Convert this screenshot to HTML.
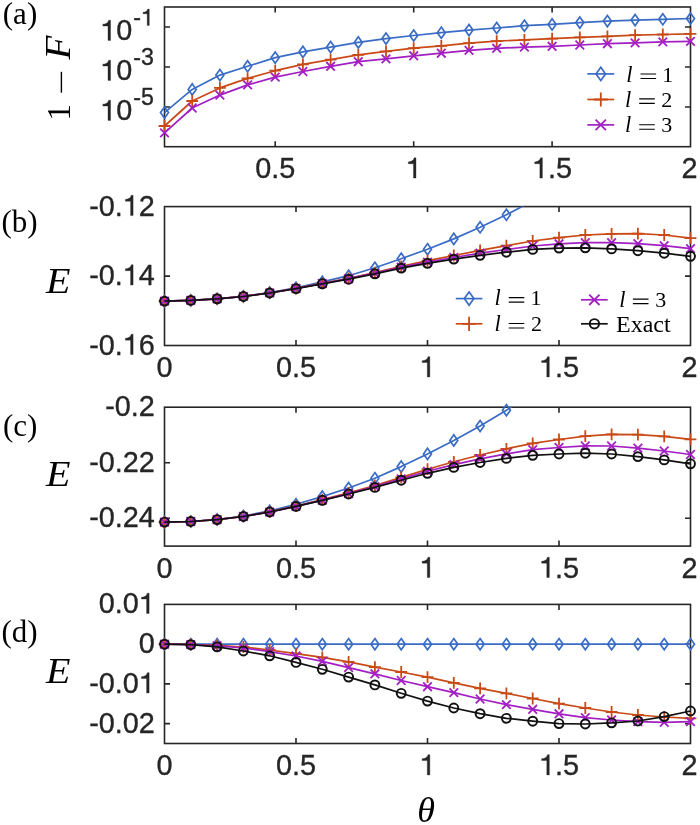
<!DOCTYPE html>
<html><head><meta charset="utf-8"><title>figure</title>
<style>
html,body{margin:0;padding:0;background:#fff;}
body{width:700px;height:825px;overflow:hidden;font-family:"Liberation Sans",sans-serif;}
svg{display:block;will-change:transform;}
</style></head><body>
<svg width="700" height="825" viewBox="0 0 700 825">
<rect x="0" y="0" width="700" height="825" fill="#ffffff"/>
<defs>
<clipPath id="clipa"><rect x="164.5" y="7.0" width="526.0" height="139.7"/></clipPath>
<clipPath id="clipb"><rect x="164.5" y="206.6" width="526.0" height="138.9"/></clipPath>
<clipPath id="clipc"><rect x="164.5" y="407.2" width="526.0" height="138.90000000000003"/></clipPath>
<clipPath id="clipd"><rect x="164.5" y="604.4" width="526.0" height="139.10000000000002"/></clipPath>
</defs>
<rect x="164.5" y="7.0" width="526.0" height="139.7" fill="none" stroke="#262626" stroke-width="1.6"/>
<path d="M275.2,146.7 V141.2 M275.2,7.0 V12.5" stroke="#262626" stroke-width="1.6" fill="none"/>
<path d="M413.7,146.7 V141.2 M413.7,7.0 V12.5" stroke="#262626" stroke-width="1.6" fill="none"/>
<path d="M552.1,146.7 V141.2 M552.1,7.0 V12.5" stroke="#262626" stroke-width="1.6" fill="none"/>
<path d="M164.5,27.0 H170.0 M690.5,27.0 H685.0" stroke="#262626" stroke-width="1.6" fill="none"/>
<path d="M164.5,67.0 H170.0 M690.5,67.0 H685.0" stroke="#262626" stroke-width="1.6" fill="none"/>
<path d="M164.5,107.0 H170.0 M690.5,107.0 H685.0" stroke="#262626" stroke-width="1.6" fill="none"/>
<text x="255.22" y="178.10" font-family="Liberation Sans, sans-serif" font-size="28.8" fill="#262626" stroke="#262626" stroke-width="0.35">0.5</text>
<path transform="translate(405.65,178.10) scale(28.8,-28.8)" d="M.359,0H.271V.499H.092V.563C.19,.566 .266,.598 .297,.703H.359Z" fill="#262626" stroke="#262626" stroke-width="0.0122"/>
<path transform="translate(532.06,178.10) scale(28.8,-28.8)" d="M.359,0H.271V.499H.092V.563C.19,.566 .266,.598 .297,.703H.359Z" fill="#262626" stroke="#262626" stroke-width="0.0122"/>
<text x="548.08" y="178.10" font-family="Liberation Sans, sans-serif" font-size="28.8" fill="#262626" stroke="#262626" stroke-width="0.35">.5</text>
<text x="681.49" y="178.10" font-family="Liberation Sans, sans-serif" font-size="28.8" fill="#262626" stroke="#262626" stroke-width="0.35">2</text>
<path transform="translate(100.20,40.40) scale(28.8,-28.8)" d="M.359,0H.271V.499H.092V.563C.19,.566 .266,.598 .297,.703H.359Z" fill="#262626" stroke="#262626" stroke-width="0.0122"/>
<text x="116.21" y="40.40" font-family="Liberation Sans, sans-serif" font-size="28.8" fill="#262626" stroke="#262626" stroke-width="0.35">0</text>
<text x="133.20" y="25.40" font-family="Liberation Sans, sans-serif" font-size="23.2" fill="#262626" stroke="#262626" stroke-width="0.35">-</text>
<path transform="translate(140.93,25.40) scale(23.2,-23.2)" d="M.359,0H.271V.499H.092V.563C.19,.566 .266,.598 .297,.703H.359Z" fill="#262626" stroke="#262626" stroke-width="0.0151"/>
<path transform="translate(100.20,80.40) scale(28.8,-28.8)" d="M.359,0H.271V.499H.092V.563C.19,.566 .266,.598 .297,.703H.359Z" fill="#262626" stroke="#262626" stroke-width="0.0122"/>
<text x="116.21" y="80.40" font-family="Liberation Sans, sans-serif" font-size="28.8" fill="#262626" stroke="#262626" stroke-width="0.35">0</text>
<text x="133.20" y="65.40" font-family="Liberation Sans, sans-serif" font-size="23.2" fill="#262626" stroke="#262626" stroke-width="0.35">-3</text>
<path transform="translate(100.20,120.40) scale(28.8,-28.8)" d="M.359,0H.271V.499H.092V.563C.19,.566 .266,.598 .297,.703H.359Z" fill="#262626" stroke="#262626" stroke-width="0.0122"/>
<text x="116.21" y="120.40" font-family="Liberation Sans, sans-serif" font-size="28.8" fill="#262626" stroke="#262626" stroke-width="0.35">0</text>
<text x="133.20" y="105.40" font-family="Liberation Sans, sans-serif" font-size="23.2" fill="#262626" stroke="#262626" stroke-width="0.35">-5</text>
<g>
<path d="M164.5,112.6 L192.2,89.4 L219.9,75.1 L247.6,66.3 L275.2,57.6 L302.9,51.9 L330.6,47.1 L358.3,42.4 L386.0,38.6 L413.7,35.5 L441.3,32.7 L469.0,30.1 L496.7,28.0 L524.4,25.7 L552.1,24.4 L579.8,22.6 L607.4,21.1 L635.1,20.1 L662.8,19.3 L690.5,18.5" fill="none" stroke="#3a6cc6" stroke-width="1.7" stroke-linejoin="round"/>
</g>
<path d="M164.5,107.0 L168.5,112.6 L164.5,118.2 L160.5,112.6 Z" fill="none" stroke="#3a6cc6" stroke-width="1.7" stroke-linejoin="miter"/>
<path d="M192.2,83.8 L196.2,89.4 L192.2,95.0 L188.2,89.4 Z" fill="none" stroke="#3a6cc6" stroke-width="1.7" stroke-linejoin="miter"/>
<path d="M219.9,69.5 L223.9,75.1 L219.9,80.7 L215.9,75.1 Z" fill="none" stroke="#3a6cc6" stroke-width="1.7" stroke-linejoin="miter"/>
<path d="M247.6,60.7 L251.6,66.3 L247.6,71.9 L243.6,66.3 Z" fill="none" stroke="#3a6cc6" stroke-width="1.7" stroke-linejoin="miter"/>
<path d="M275.2,52.0 L279.2,57.6 L275.2,63.2 L271.2,57.6 Z" fill="none" stroke="#3a6cc6" stroke-width="1.7" stroke-linejoin="miter"/>
<path d="M302.9,46.3 L306.9,51.9 L302.9,57.5 L298.9,51.9 Z" fill="none" stroke="#3a6cc6" stroke-width="1.7" stroke-linejoin="miter"/>
<path d="M330.6,41.5 L334.6,47.1 L330.6,52.7 L326.6,47.1 Z" fill="none" stroke="#3a6cc6" stroke-width="1.7" stroke-linejoin="miter"/>
<path d="M358.3,36.8 L362.3,42.4 L358.3,48.0 L354.3,42.4 Z" fill="none" stroke="#3a6cc6" stroke-width="1.7" stroke-linejoin="miter"/>
<path d="M386.0,33.0 L390.0,38.6 L386.0,44.2 L382.0,38.6 Z" fill="none" stroke="#3a6cc6" stroke-width="1.7" stroke-linejoin="miter"/>
<path d="M413.7,29.9 L417.7,35.5 L413.7,41.1 L409.7,35.5 Z" fill="none" stroke="#3a6cc6" stroke-width="1.7" stroke-linejoin="miter"/>
<path d="M441.3,27.1 L445.3,32.7 L441.3,38.3 L437.3,32.7 Z" fill="none" stroke="#3a6cc6" stroke-width="1.7" stroke-linejoin="miter"/>
<path d="M469.0,24.5 L473.0,30.1 L469.0,35.7 L465.0,30.1 Z" fill="none" stroke="#3a6cc6" stroke-width="1.7" stroke-linejoin="miter"/>
<path d="M496.7,22.4 L500.7,28.0 L496.7,33.6 L492.7,28.0 Z" fill="none" stroke="#3a6cc6" stroke-width="1.7" stroke-linejoin="miter"/>
<path d="M524.4,20.1 L528.4,25.7 L524.4,31.3 L520.4,25.7 Z" fill="none" stroke="#3a6cc6" stroke-width="1.7" stroke-linejoin="miter"/>
<path d="M552.1,18.8 L556.1,24.4 L552.1,30.0 L548.1,24.4 Z" fill="none" stroke="#3a6cc6" stroke-width="1.7" stroke-linejoin="miter"/>
<path d="M579.8,17.0 L583.8,22.6 L579.8,28.2 L575.8,22.6 Z" fill="none" stroke="#3a6cc6" stroke-width="1.7" stroke-linejoin="miter"/>
<path d="M607.4,15.5 L611.4,21.1 L607.4,26.7 L603.4,21.1 Z" fill="none" stroke="#3a6cc6" stroke-width="1.7" stroke-linejoin="miter"/>
<path d="M635.1,14.5 L639.1,20.1 L635.1,25.7 L631.1,20.1 Z" fill="none" stroke="#3a6cc6" stroke-width="1.7" stroke-linejoin="miter"/>
<path d="M662.8,13.7 L666.8,19.3 L662.8,24.9 L658.8,19.3 Z" fill="none" stroke="#3a6cc6" stroke-width="1.7" stroke-linejoin="miter"/>
<path d="M690.5,12.9 L694.5,18.5 L690.5,24.1 L686.5,18.5 Z" fill="none" stroke="#3a6cc6" stroke-width="1.7" stroke-linejoin="miter"/>
<g>
<path d="M164.5,126.0 L192.2,101.0 L219.9,87.9 L247.6,78.4 L275.2,70.7 L302.9,64.3 L330.6,59.7 L358.3,54.8 L386.0,51.4 L413.7,48.1 L441.3,45.8 L469.0,43.2 L496.7,41.1 L524.4,39.9 L552.1,38.6 L579.8,37.3 L607.4,36.3 L635.1,35.2 L662.8,34.5 L690.5,33.9" fill="none" stroke="#c94a16" stroke-width="1.7" stroke-linejoin="round"/>
</g>
<path d="M158.6,126.0 H170.4 M164.5,120.1 V131.9" fill="none" stroke="#c94a16" stroke-width="1.8"/>
<path d="M186.3,101.0 H198.1 M192.2,95.1 V106.9" fill="none" stroke="#c94a16" stroke-width="1.8"/>
<path d="M214.0,87.9 H225.8 M219.9,82.0 V93.8" fill="none" stroke="#c94a16" stroke-width="1.8"/>
<path d="M241.7,78.4 H253.5 M247.6,72.5 V84.3" fill="none" stroke="#c94a16" stroke-width="1.8"/>
<path d="M269.3,70.7 H281.1 M275.2,64.8 V76.6" fill="none" stroke="#c94a16" stroke-width="1.8"/>
<path d="M297.0,64.3 H308.8 M302.9,58.4 V70.2" fill="none" stroke="#c94a16" stroke-width="1.8"/>
<path d="M324.7,59.7 H336.5 M330.6,53.8 V65.6" fill="none" stroke="#c94a16" stroke-width="1.8"/>
<path d="M352.4,54.8 H364.2 M358.3,48.9 V60.7" fill="none" stroke="#c94a16" stroke-width="1.8"/>
<path d="M380.1,51.4 H391.9 M386.0,45.5 V57.3" fill="none" stroke="#c94a16" stroke-width="1.8"/>
<path d="M407.8,48.1 H419.6 M413.7,42.2 V54.0" fill="none" stroke="#c94a16" stroke-width="1.8"/>
<path d="M435.4,45.8 H447.2 M441.3,39.9 V51.7" fill="none" stroke="#c94a16" stroke-width="1.8"/>
<path d="M463.1,43.2 H474.9 M469.0,37.3 V49.1" fill="none" stroke="#c94a16" stroke-width="1.8"/>
<path d="M490.8,41.1 H502.6 M496.7,35.2 V47.0" fill="none" stroke="#c94a16" stroke-width="1.8"/>
<path d="M518.5,39.9 H530.3 M524.4,34.0 V45.8" fill="none" stroke="#c94a16" stroke-width="1.8"/>
<path d="M546.2,38.6 H558.0 M552.1,32.7 V44.5" fill="none" stroke="#c94a16" stroke-width="1.8"/>
<path d="M573.9,37.3 H585.7 M579.8,31.4 V43.2" fill="none" stroke="#c94a16" stroke-width="1.8"/>
<path d="M601.5,36.3 H613.3 M607.4,30.4 V42.2" fill="none" stroke="#c94a16" stroke-width="1.8"/>
<path d="M629.2,35.2 H641.0 M635.1,29.3 V41.1" fill="none" stroke="#c94a16" stroke-width="1.8"/>
<path d="M656.9,34.5 H668.7 M662.8,28.6 V40.4" fill="none" stroke="#c94a16" stroke-width="1.8"/>
<path d="M684.6,33.9 H696.4 M690.5,28.0 V39.8" fill="none" stroke="#c94a16" stroke-width="1.8"/>
<g>
<path d="M164.5,132.9 L192.2,108.0 L219.9,95.1 L247.6,84.9 L275.2,77.1 L302.9,71.5 L330.6,66.3 L358.3,61.7 L386.0,58.9 L413.7,55.8 L441.3,53.2 L469.0,50.4 L496.7,48.3 L524.4,47.1 L552.1,46.3 L579.8,45.0 L607.4,43.7 L635.1,42.9 L662.8,41.9 L690.5,41.4" fill="none" stroke="#a31fc4" stroke-width="1.7" stroke-linejoin="round"/>
</g>
<path d="M160.2,128.6 L168.8,137.2 M160.2,137.2 L168.8,128.6" fill="none" stroke="#a31fc4" stroke-width="1.8"/>
<path d="M187.9,103.7 L196.5,112.3 M187.9,112.3 L196.5,103.7" fill="none" stroke="#a31fc4" stroke-width="1.8"/>
<path d="M215.6,90.8 L224.2,99.4 M215.6,99.4 L224.2,90.8" fill="none" stroke="#a31fc4" stroke-width="1.8"/>
<path d="M243.3,80.6 L251.9,89.2 M243.3,89.2 L251.9,80.6" fill="none" stroke="#a31fc4" stroke-width="1.8"/>
<path d="M270.9,72.8 L279.5,81.4 M270.9,81.4 L279.5,72.8" fill="none" stroke="#a31fc4" stroke-width="1.8"/>
<path d="M298.6,67.2 L307.2,75.8 M298.6,75.8 L307.2,67.2" fill="none" stroke="#a31fc4" stroke-width="1.8"/>
<path d="M326.3,62.0 L334.9,70.6 M326.3,70.6 L334.9,62.0" fill="none" stroke="#a31fc4" stroke-width="1.8"/>
<path d="M354.0,57.4 L362.6,66.0 M354.0,66.0 L362.6,57.4" fill="none" stroke="#a31fc4" stroke-width="1.8"/>
<path d="M381.7,54.6 L390.3,63.2 M381.7,63.2 L390.3,54.6" fill="none" stroke="#a31fc4" stroke-width="1.8"/>
<path d="M409.4,51.5 L418.0,60.1 M409.4,60.1 L418.0,51.5" fill="none" stroke="#a31fc4" stroke-width="1.8"/>
<path d="M437.0,48.9 L445.6,57.5 M437.0,57.5 L445.6,48.9" fill="none" stroke="#a31fc4" stroke-width="1.8"/>
<path d="M464.7,46.1 L473.3,54.7 M464.7,54.7 L473.3,46.1" fill="none" stroke="#a31fc4" stroke-width="1.8"/>
<path d="M492.4,44.0 L501.0,52.6 M492.4,52.6 L501.0,44.0" fill="none" stroke="#a31fc4" stroke-width="1.8"/>
<path d="M520.1,42.8 L528.7,51.4 M520.1,51.4 L528.7,42.8" fill="none" stroke="#a31fc4" stroke-width="1.8"/>
<path d="M547.8,42.0 L556.4,50.6 M547.8,50.6 L556.4,42.0" fill="none" stroke="#a31fc4" stroke-width="1.8"/>
<path d="M575.5,40.7 L584.1,49.3 M575.5,49.3 L584.1,40.7" fill="none" stroke="#a31fc4" stroke-width="1.8"/>
<path d="M603.1,39.4 L611.7,48.0 M603.1,48.0 L611.7,39.4" fill="none" stroke="#a31fc4" stroke-width="1.8"/>
<path d="M630.8,38.6 L639.4,47.2 M630.8,47.2 L639.4,38.6" fill="none" stroke="#a31fc4" stroke-width="1.8"/>
<path d="M658.5,37.6 L667.1,46.2 M658.5,46.2 L667.1,37.6" fill="none" stroke="#a31fc4" stroke-width="1.8"/>
<path d="M686.2,37.1 L694.8,45.7 M686.2,45.7 L694.8,37.1" fill="none" stroke="#a31fc4" stroke-width="1.8"/>
<path d="M587.3,73.9 H614.2" stroke="#3a6cc6" stroke-width="1.7"/>
<path d="M600.8,67.2 L605.5,73.9 L600.8,80.6 L596.0,73.9 Z" fill="none" stroke="#3a6cc6" stroke-width="1.7" stroke-linejoin="miter"/>
<path d="M587.3,99.5 H614.2" stroke="#c94a16" stroke-width="1.7"/>
<path d="M593.7,99.5 H607.8 M600.8,92.4 V106.6" fill="none" stroke="#c94a16" stroke-width="1.8"/>
<path d="M587.3,124.9 H614.2" stroke="#a31fc4" stroke-width="1.7"/>
<path d="M595.6,119.7 L605.9,130.1 M595.6,130.1 L605.9,119.7" fill="none" stroke="#a31fc4" stroke-width="1.8"/>
<text x="626.3" y="81.7" font-family="Liberation Serif, serif" font-size="22.5" font-style="italic" fill="#000">l</text>
<path d="M640.5,74.0 h15.6 M640.5,78.5 h15.6" stroke="#000" stroke-width="1.15" fill="none"/>
<text x="662.3" y="81.7" font-family="Liberation Serif, serif" font-size="22" fill="#000">1</text>
<text x="625.0" y="106.6" font-family="Liberation Serif, serif" font-size="22.5" font-style="italic" fill="#000">l</text>
<path d="M639.2,98.9 h15.6 M639.2,103.4 h15.6" stroke="#000" stroke-width="1.15" fill="none"/>
<text x="661.3" y="106.6" font-family="Liberation Serif, serif" font-size="22" fill="#000">2</text>
<text x="625.0" y="132.4" font-family="Liberation Serif, serif" font-size="22.5" font-style="italic" fill="#000">l</text>
<path d="M639.2,124.7 h15.6 M639.2,129.2 h15.6" stroke="#000" stroke-width="1.15" fill="none"/>
<text x="661.3" y="132.4" font-family="Liberation Serif, serif" font-size="22" fill="#000">3</text>
<rect x="164.5" y="206.6" width="526.0" height="138.9" fill="none" stroke="#262626" stroke-width="1.6"/>
<path d="M296.0,345.5 V340.0 M296.0,206.6 V212.1" stroke="#262626" stroke-width="1.6" fill="none"/>
<path d="M427.5,345.5 V340.0 M427.5,206.6 V212.1" stroke="#262626" stroke-width="1.6" fill="none"/>
<path d="M559.0,345.5 V340.0 M559.0,206.6 V212.1" stroke="#262626" stroke-width="1.6" fill="none"/>
<path d="M164.5,276.1 H170.0 M690.5,276.1 H685.0" stroke="#262626" stroke-width="1.6" fill="none"/>
<text x="156.49" y="376.90" font-family="Liberation Sans, sans-serif" font-size="28.8" fill="#262626" stroke="#262626" stroke-width="0.35">0</text>
<text x="275.98" y="376.90" font-family="Liberation Sans, sans-serif" font-size="28.8" fill="#262626" stroke="#262626" stroke-width="0.35">0.5</text>
<path transform="translate(419.49,376.90) scale(28.8,-28.8)" d="M.359,0H.271V.499H.092V.563C.19,.566 .266,.598 .297,.703H.359Z" fill="#262626" stroke="#262626" stroke-width="0.0122"/>
<path transform="translate(538.98,376.90) scale(28.8,-28.8)" d="M.359,0H.271V.499H.092V.563C.19,.566 .266,.598 .297,.703H.359Z" fill="#262626" stroke="#262626" stroke-width="0.0122"/>
<text x="555.00" y="376.90" font-family="Liberation Sans, sans-serif" font-size="28.8" fill="#262626" stroke="#262626" stroke-width="0.35">.5</text>
<text x="681.49" y="376.90" font-family="Liberation Sans, sans-serif" font-size="28.8" fill="#262626" stroke="#262626" stroke-width="0.35">2</text>
<text x="89.16" y="215.60" font-family="Liberation Sans, sans-serif" font-size="28.8" fill="#262626" stroke="#262626" stroke-width="0.35">-0.</text>
<path transform="translate(122.77,215.60) scale(28.8,-28.8)" d="M.359,0H.271V.499H.092V.563C.19,.566 .266,.598 .297,.703H.359Z" fill="#262626" stroke="#262626" stroke-width="0.0122"/>
<text x="138.79" y="215.60" font-family="Liberation Sans, sans-serif" font-size="28.8" fill="#262626" stroke="#262626" stroke-width="0.35">2</text>
<text x="89.16" y="285.05" font-family="Liberation Sans, sans-serif" font-size="28.8" fill="#262626" stroke="#262626" stroke-width="0.35">-0.</text>
<path transform="translate(122.77,285.05) scale(28.8,-28.8)" d="M.359,0H.271V.499H.092V.563C.19,.566 .266,.598 .297,.703H.359Z" fill="#262626" stroke="#262626" stroke-width="0.0122"/>
<text x="138.79" y="285.05" font-family="Liberation Sans, sans-serif" font-size="28.8" fill="#262626" stroke="#262626" stroke-width="0.35">4</text>
<text x="89.16" y="354.50" font-family="Liberation Sans, sans-serif" font-size="28.8" fill="#262626" stroke="#262626" stroke-width="0.35">-0.</text>
<path transform="translate(122.77,354.50) scale(28.8,-28.8)" d="M.359,0H.271V.499H.092V.563C.19,.566 .266,.598 .297,.703H.359Z" fill="#262626" stroke="#262626" stroke-width="0.0122"/>
<text x="138.79" y="354.50" font-family="Liberation Sans, sans-serif" font-size="28.8" fill="#262626" stroke="#262626" stroke-width="0.35">6</text>
<g clip-path="url(#clipb)">
<path d="M164.5,301.1 L190.8,300.4 L217.1,298.8 L243.4,296.4 L269.7,292.6 L296.0,287.8 L322.3,281.9 L348.6,275.7 L374.9,267.8 L401.2,258.7 L427.5,249.2 L453.8,238.9 L480.1,227.3 L506.4,214.8 L532.7,200.9" fill="none" stroke="#3a6cc6" stroke-width="1.7" stroke-linejoin="round"/>
</g>
<path d="M164.5,295.5 L168.5,301.1 L164.5,306.7 L160.5,301.1 Z" fill="none" stroke="#3a6cc6" stroke-width="1.7" stroke-linejoin="miter"/>
<path d="M190.8,294.8 L194.8,300.4 L190.8,306.0 L186.8,300.4 Z" fill="none" stroke="#3a6cc6" stroke-width="1.7" stroke-linejoin="miter"/>
<path d="M217.1,293.2 L221.1,298.8 L217.1,304.4 L213.1,298.8 Z" fill="none" stroke="#3a6cc6" stroke-width="1.7" stroke-linejoin="miter"/>
<path d="M243.4,290.8 L247.4,296.4 L243.4,302.0 L239.4,296.4 Z" fill="none" stroke="#3a6cc6" stroke-width="1.7" stroke-linejoin="miter"/>
<path d="M269.7,287.0 L273.7,292.6 L269.7,298.2 L265.7,292.6 Z" fill="none" stroke="#3a6cc6" stroke-width="1.7" stroke-linejoin="miter"/>
<path d="M296.0,282.2 L300.0,287.8 L296.0,293.4 L292.0,287.8 Z" fill="none" stroke="#3a6cc6" stroke-width="1.7" stroke-linejoin="miter"/>
<path d="M322.3,276.3 L326.3,281.9 L322.3,287.5 L318.3,281.9 Z" fill="none" stroke="#3a6cc6" stroke-width="1.7" stroke-linejoin="miter"/>
<path d="M348.6,270.1 L352.6,275.7 L348.6,281.3 L344.6,275.7 Z" fill="none" stroke="#3a6cc6" stroke-width="1.7" stroke-linejoin="miter"/>
<path d="M374.9,262.2 L378.9,267.8 L374.9,273.4 L370.9,267.8 Z" fill="none" stroke="#3a6cc6" stroke-width="1.7" stroke-linejoin="miter"/>
<path d="M401.2,253.1 L405.2,258.7 L401.2,264.3 L397.2,258.7 Z" fill="none" stroke="#3a6cc6" stroke-width="1.7" stroke-linejoin="miter"/>
<path d="M427.5,243.6 L431.5,249.2 L427.5,254.8 L423.5,249.2 Z" fill="none" stroke="#3a6cc6" stroke-width="1.7" stroke-linejoin="miter"/>
<path d="M453.8,233.3 L457.8,238.9 L453.8,244.5 L449.8,238.9 Z" fill="none" stroke="#3a6cc6" stroke-width="1.7" stroke-linejoin="miter"/>
<path d="M480.1,221.7 L484.1,227.3 L480.1,232.9 L476.1,227.3 Z" fill="none" stroke="#3a6cc6" stroke-width="1.7" stroke-linejoin="miter"/>
<path d="M506.4,209.2 L510.4,214.8 L506.4,220.4 L502.4,214.8 Z" fill="none" stroke="#3a6cc6" stroke-width="1.7" stroke-linejoin="miter"/>
<g>
<path d="M164.5,301.1 L190.8,300.4 L217.1,298.8 L243.4,296.4 L269.7,292.8 L296.0,288.4 L322.3,283.3 L348.6,278.4 L374.9,272.6 L401.2,266.3 L427.5,260.7 L453.8,255.5 L480.1,250.4 L506.4,245.7 L532.7,241.0 L559.0,237.6 L585.3,235.0 L611.6,233.9 L637.9,233.7 L664.2,235.0 L690.5,238.1" fill="none" stroke="#c94a16" stroke-width="1.7" stroke-linejoin="round"/>
</g>
<path d="M158.6,301.1 H170.4 M164.5,295.2 V307.0" fill="none" stroke="#c94a16" stroke-width="1.8"/>
<path d="M184.9,300.4 H196.7 M190.8,294.5 V306.3" fill="none" stroke="#c94a16" stroke-width="1.8"/>
<path d="M211.2,298.8 H223.0 M217.1,292.9 V304.7" fill="none" stroke="#c94a16" stroke-width="1.8"/>
<path d="M237.5,296.4 H249.3 M243.4,290.5 V302.3" fill="none" stroke="#c94a16" stroke-width="1.8"/>
<path d="M263.8,292.8 H275.6 M269.7,286.9 V298.7" fill="none" stroke="#c94a16" stroke-width="1.8"/>
<path d="M290.1,288.4 H301.9 M296.0,282.5 V294.3" fill="none" stroke="#c94a16" stroke-width="1.8"/>
<path d="M316.4,283.3 H328.2 M322.3,277.4 V289.2" fill="none" stroke="#c94a16" stroke-width="1.8"/>
<path d="M342.7,278.4 H354.5 M348.6,272.5 V284.3" fill="none" stroke="#c94a16" stroke-width="1.8"/>
<path d="M369.0,272.6 H380.8 M374.9,266.7 V278.5" fill="none" stroke="#c94a16" stroke-width="1.8"/>
<path d="M395.3,266.3 H407.1 M401.2,260.4 V272.2" fill="none" stroke="#c94a16" stroke-width="1.8"/>
<path d="M421.6,260.7 H433.4 M427.5,254.8 V266.6" fill="none" stroke="#c94a16" stroke-width="1.8"/>
<path d="M447.9,255.5 H459.7 M453.8,249.6 V261.4" fill="none" stroke="#c94a16" stroke-width="1.8"/>
<path d="M474.2,250.4 H486.0 M480.1,244.5 V256.3" fill="none" stroke="#c94a16" stroke-width="1.8"/>
<path d="M500.5,245.7 H512.3 M506.4,239.8 V251.6" fill="none" stroke="#c94a16" stroke-width="1.8"/>
<path d="M526.8,241.0 H538.6 M532.7,235.1 V246.9" fill="none" stroke="#c94a16" stroke-width="1.8"/>
<path d="M553.1,237.6 H564.9 M559.0,231.7 V243.5" fill="none" stroke="#c94a16" stroke-width="1.8"/>
<path d="M579.4,235.0 H591.2 M585.3,229.1 V240.9" fill="none" stroke="#c94a16" stroke-width="1.8"/>
<path d="M605.7,233.9 H617.5 M611.6,228.0 V239.8" fill="none" stroke="#c94a16" stroke-width="1.8"/>
<path d="M632.0,233.7 H643.8 M637.9,227.8 V239.6" fill="none" stroke="#c94a16" stroke-width="1.8"/>
<path d="M658.3,235.0 H670.1 M664.2,229.1 V240.9" fill="none" stroke="#c94a16" stroke-width="1.8"/>
<path d="M684.6,238.1 H696.4 M690.5,232.2 V244.0" fill="none" stroke="#c94a16" stroke-width="1.8"/>
<g>
<path d="M164.5,301.1 L190.8,300.4 L217.1,298.8 L243.4,296.4 L269.7,292.9 L296.0,288.5 L322.3,283.5 L348.6,278.7 L374.9,273.2 L401.2,267.2 L427.5,262.1 L453.8,257.5 L480.1,253.2 L506.4,249.5 L532.7,246.0 L559.0,243.8 L585.3,242.6 L611.6,242.7 L637.9,243.7 L664.2,245.6 L690.5,248.7" fill="none" stroke="#a31fc4" stroke-width="1.7" stroke-linejoin="round"/>
</g>
<path d="M160.2,296.8 L168.8,305.4 M160.2,305.4 L168.8,296.8" fill="none" stroke="#a31fc4" stroke-width="1.8"/>
<path d="M186.5,296.1 L195.1,304.7 M186.5,304.7 L195.1,296.1" fill="none" stroke="#a31fc4" stroke-width="1.8"/>
<path d="M212.8,294.5 L221.4,303.1 M212.8,303.1 L221.4,294.5" fill="none" stroke="#a31fc4" stroke-width="1.8"/>
<path d="M239.1,292.1 L247.7,300.7 M239.1,300.7 L247.7,292.1" fill="none" stroke="#a31fc4" stroke-width="1.8"/>
<path d="M265.4,288.6 L274.0,297.2 M265.4,297.2 L274.0,288.6" fill="none" stroke="#a31fc4" stroke-width="1.8"/>
<path d="M291.7,284.2 L300.3,292.8 M291.7,292.8 L300.3,284.2" fill="none" stroke="#a31fc4" stroke-width="1.8"/>
<path d="M318.0,279.2 L326.6,287.8 M318.0,287.8 L326.6,279.2" fill="none" stroke="#a31fc4" stroke-width="1.8"/>
<path d="M344.3,274.4 L352.9,283.0 M344.3,283.0 L352.9,274.4" fill="none" stroke="#a31fc4" stroke-width="1.8"/>
<path d="M370.6,268.9 L379.2,277.5 M370.6,277.5 L379.2,268.9" fill="none" stroke="#a31fc4" stroke-width="1.8"/>
<path d="M396.9,262.9 L405.5,271.5 M396.9,271.5 L405.5,262.9" fill="none" stroke="#a31fc4" stroke-width="1.8"/>
<path d="M423.2,257.8 L431.8,266.4 M423.2,266.4 L431.8,257.8" fill="none" stroke="#a31fc4" stroke-width="1.8"/>
<path d="M449.5,253.2 L458.1,261.8 M449.5,261.8 L458.1,253.2" fill="none" stroke="#a31fc4" stroke-width="1.8"/>
<path d="M475.8,248.9 L484.4,257.5 M475.8,257.5 L484.4,248.9" fill="none" stroke="#a31fc4" stroke-width="1.8"/>
<path d="M502.1,245.2 L510.7,253.8 M502.1,253.8 L510.7,245.2" fill="none" stroke="#a31fc4" stroke-width="1.8"/>
<path d="M528.4,241.7 L537.0,250.3 M528.4,250.3 L537.0,241.7" fill="none" stroke="#a31fc4" stroke-width="1.8"/>
<path d="M554.7,239.5 L563.3,248.1 M554.7,248.1 L563.3,239.5" fill="none" stroke="#a31fc4" stroke-width="1.8"/>
<path d="M581.0,238.3 L589.6,246.9 M581.0,246.9 L589.6,238.3" fill="none" stroke="#a31fc4" stroke-width="1.8"/>
<path d="M607.3,238.4 L615.9,247.0 M607.3,247.0 L615.9,238.4" fill="none" stroke="#a31fc4" stroke-width="1.8"/>
<path d="M633.6,239.4 L642.2,248.0 M633.6,248.0 L642.2,239.4" fill="none" stroke="#a31fc4" stroke-width="1.8"/>
<path d="M659.9,241.3 L668.5,249.9 M659.9,249.9 L668.5,241.3" fill="none" stroke="#a31fc4" stroke-width="1.8"/>
<path d="M686.2,244.4 L694.8,253.0 M686.2,253.0 L694.8,244.4" fill="none" stroke="#a31fc4" stroke-width="1.8"/>
<g>
<path d="M164.5,301.1 L190.8,300.4 L217.1,298.8 L243.4,296.5 L269.7,293.0 L296.0,288.7 L322.3,283.8 L348.6,279.2 L374.9,273.8 L401.2,268.1 L427.5,263.3 L453.8,259.1 L480.1,255.3 L506.4,252.2 L532.7,249.4 L559.0,248.1 L585.3,247.8 L611.6,248.9 L637.9,250.7 L664.2,253.2 L690.5,256.3" fill="none" stroke="#111111" stroke-width="1.7" stroke-linejoin="round"/>
</g>
<circle cx="164.5" cy="301.1" r="4.45" fill="none" stroke="#111111" stroke-width="1.95"/>
<circle cx="190.8" cy="300.4" r="4.45" fill="none" stroke="#111111" stroke-width="1.95"/>
<circle cx="217.1" cy="298.8" r="4.45" fill="none" stroke="#111111" stroke-width="1.95"/>
<circle cx="243.4" cy="296.5" r="4.45" fill="none" stroke="#111111" stroke-width="1.95"/>
<circle cx="269.7" cy="293.0" r="4.45" fill="none" stroke="#111111" stroke-width="1.95"/>
<circle cx="296.0" cy="288.7" r="4.45" fill="none" stroke="#111111" stroke-width="1.95"/>
<circle cx="322.3" cy="283.8" r="4.45" fill="none" stroke="#111111" stroke-width="1.95"/>
<circle cx="348.6" cy="279.2" r="4.45" fill="none" stroke="#111111" stroke-width="1.95"/>
<circle cx="374.9" cy="273.8" r="4.45" fill="none" stroke="#111111" stroke-width="1.95"/>
<circle cx="401.2" cy="268.1" r="4.45" fill="none" stroke="#111111" stroke-width="1.95"/>
<circle cx="427.5" cy="263.3" r="4.45" fill="none" stroke="#111111" stroke-width="1.95"/>
<circle cx="453.8" cy="259.1" r="4.45" fill="none" stroke="#111111" stroke-width="1.95"/>
<circle cx="480.1" cy="255.3" r="4.45" fill="none" stroke="#111111" stroke-width="1.95"/>
<circle cx="506.4" cy="252.2" r="4.45" fill="none" stroke="#111111" stroke-width="1.95"/>
<circle cx="532.7" cy="249.4" r="4.45" fill="none" stroke="#111111" stroke-width="1.95"/>
<circle cx="559.0" cy="248.1" r="4.45" fill="none" stroke="#111111" stroke-width="1.95"/>
<circle cx="585.3" cy="247.8" r="4.45" fill="none" stroke="#111111" stroke-width="1.95"/>
<circle cx="611.6" cy="248.9" r="4.45" fill="none" stroke="#111111" stroke-width="1.95"/>
<circle cx="637.9" cy="250.7" r="4.45" fill="none" stroke="#111111" stroke-width="1.95"/>
<circle cx="664.2" cy="253.2" r="4.45" fill="none" stroke="#111111" stroke-width="1.95"/>
<circle cx="690.5" cy="256.3" r="4.45" fill="none" stroke="#111111" stroke-width="1.95"/>
<path d="M455.8,298.6 H482.4" stroke="#3a6cc6" stroke-width="1.7"/>
<path d="M469.1,291.9 L473.9,298.6 L469.1,305.3 L464.3,298.6 Z" fill="none" stroke="#3a6cc6" stroke-width="1.7" stroke-linejoin="miter"/>
<path d="M455.8,323.8 H482.4" stroke="#c94a16" stroke-width="1.7"/>
<path d="M462.0,323.8 H476.2 M469.1,316.7 V330.9" fill="none" stroke="#c94a16" stroke-width="1.8"/>
<path d="M581.0,299.8 H607.7" stroke="#a31fc4" stroke-width="1.7"/>
<path d="M589.2,294.6 L599.5,305.0 M589.2,305.0 L599.5,294.6" fill="none" stroke="#a31fc4" stroke-width="1.8"/>
<path d="M581.0,323.8 H607.7" stroke="#111111" stroke-width="1.7"/>
<circle cx="594.4" cy="323.8" r="4.67" fill="none" stroke="#111111" stroke-width="1.95"/>
<text x="494.4" y="305.3" font-family="Liberation Serif, serif" font-size="22.5" font-style="italic" fill="#000">l</text>
<path d="M508.7,297.6 h15.6 M508.7,302.1 h15.6" stroke="#000" stroke-width="1.15" fill="none"/>
<text x="530.6" y="305.3" font-family="Liberation Serif, serif" font-size="22" fill="#000">1</text>
<text x="494.4" y="331.2" font-family="Liberation Serif, serif" font-size="22.5" font-style="italic" fill="#000">l</text>
<path d="M508.7,323.5 h15.6 M508.7,328.0 h15.6" stroke="#000" stroke-width="1.15" fill="none"/>
<text x="531.0" y="331.2" font-family="Liberation Serif, serif" font-size="22" fill="#000">2</text>
<text x="619.3" y="306.8" font-family="Liberation Serif, serif" font-size="22.5" font-style="italic" fill="#000">l</text>
<path d="M632.9,299.1 h15.6 M632.9,303.6 h15.6" stroke="#000" stroke-width="1.15" fill="none"/>
<text x="655.2" y="306.8" font-family="Liberation Serif, serif" font-size="22" fill="#000">3</text>
<text x="616.0" y="331.6" font-family="Liberation Serif, serif" font-size="22.8" fill="#000" textLength="54.6" lengthAdjust="spacingAndGlyphs">Exact</text>
<rect x="164.5" y="407.2" width="526.0" height="138.90000000000003" fill="none" stroke="#262626" stroke-width="1.6"/>
<path d="M296.0,546.1 V540.6 M296.0,407.2 V412.7" stroke="#262626" stroke-width="1.6" fill="none"/>
<path d="M427.5,546.1 V540.6 M427.5,407.2 V412.7" stroke="#262626" stroke-width="1.6" fill="none"/>
<path d="M559.0,546.1 V540.6 M559.0,407.2 V412.7" stroke="#262626" stroke-width="1.6" fill="none"/>
<path d="M164.5,462.8 H170.0 M690.5,462.8 H685.0" stroke="#262626" stroke-width="1.6" fill="none"/>
<path d="M164.5,518.3 H170.0 M690.5,518.3 H685.0" stroke="#262626" stroke-width="1.6" fill="none"/>
<text x="156.49" y="577.50" font-family="Liberation Sans, sans-serif" font-size="28.8" fill="#262626" stroke="#262626" stroke-width="0.35">0</text>
<text x="275.98" y="577.50" font-family="Liberation Sans, sans-serif" font-size="28.8" fill="#262626" stroke="#262626" stroke-width="0.35">0.5</text>
<path transform="translate(419.49,577.50) scale(28.8,-28.8)" d="M.359,0H.271V.499H.092V.563C.19,.566 .266,.598 .297,.703H.359Z" fill="#262626" stroke="#262626" stroke-width="0.0122"/>
<path transform="translate(538.98,577.50) scale(28.8,-28.8)" d="M.359,0H.271V.499H.092V.563C.19,.566 .266,.598 .297,.703H.359Z" fill="#262626" stroke="#262626" stroke-width="0.0122"/>
<text x="555.00" y="577.50" font-family="Liberation Sans, sans-serif" font-size="28.8" fill="#262626" stroke="#262626" stroke-width="0.35">.5</text>
<text x="681.49" y="577.50" font-family="Liberation Sans, sans-serif" font-size="28.8" fill="#262626" stroke="#262626" stroke-width="0.35">2</text>
<text x="105.18" y="416.20" font-family="Liberation Sans, sans-serif" font-size="28.8" fill="#262626" stroke="#262626" stroke-width="0.35">-0.2</text>
<text x="89.16" y="471.76" font-family="Liberation Sans, sans-serif" font-size="28.8" fill="#262626" stroke="#262626" stroke-width="0.35">-0.22</text>
<text x="89.16" y="527.32" font-family="Liberation Sans, sans-serif" font-size="28.8" fill="#262626" stroke="#262626" stroke-width="0.35">-0.24</text>
<g clip-path="url(#clipc)">
<path d="M164.5,522.1 L190.8,521.5 L217.1,519.5 L243.4,516.0 L269.7,510.9 L296.0,504.3 L322.3,496.6 L348.6,488.0 L374.9,478.2 L401.2,466.6 L427.5,453.9 L453.8,440.4 L480.1,426.0 L506.4,410.2 L532.7,392.8" fill="none" stroke="#3a6cc6" stroke-width="1.7" stroke-linejoin="round"/>
</g>
<path d="M164.5,516.5 L168.5,522.1 L164.5,527.7 L160.5,522.1 Z" fill="none" stroke="#3a6cc6" stroke-width="1.7" stroke-linejoin="miter"/>
<path d="M190.8,515.9 L194.8,521.5 L190.8,527.1 L186.8,521.5 Z" fill="none" stroke="#3a6cc6" stroke-width="1.7" stroke-linejoin="miter"/>
<path d="M217.1,513.9 L221.1,519.5 L217.1,525.1 L213.1,519.5 Z" fill="none" stroke="#3a6cc6" stroke-width="1.7" stroke-linejoin="miter"/>
<path d="M243.4,510.4 L247.4,516.0 L243.4,521.6 L239.4,516.0 Z" fill="none" stroke="#3a6cc6" stroke-width="1.7" stroke-linejoin="miter"/>
<path d="M269.7,505.3 L273.7,510.9 L269.7,516.5 L265.7,510.9 Z" fill="none" stroke="#3a6cc6" stroke-width="1.7" stroke-linejoin="miter"/>
<path d="M296.0,498.7 L300.0,504.3 L296.0,509.9 L292.0,504.3 Z" fill="none" stroke="#3a6cc6" stroke-width="1.7" stroke-linejoin="miter"/>
<path d="M322.3,491.0 L326.3,496.6 L322.3,502.2 L318.3,496.6 Z" fill="none" stroke="#3a6cc6" stroke-width="1.7" stroke-linejoin="miter"/>
<path d="M348.6,482.4 L352.6,488.0 L348.6,493.6 L344.6,488.0 Z" fill="none" stroke="#3a6cc6" stroke-width="1.7" stroke-linejoin="miter"/>
<path d="M374.9,472.6 L378.9,478.2 L374.9,483.8 L370.9,478.2 Z" fill="none" stroke="#3a6cc6" stroke-width="1.7" stroke-linejoin="miter"/>
<path d="M401.2,461.0 L405.2,466.6 L401.2,472.2 L397.2,466.6 Z" fill="none" stroke="#3a6cc6" stroke-width="1.7" stroke-linejoin="miter"/>
<path d="M427.5,448.3 L431.5,453.9 L427.5,459.5 L423.5,453.9 Z" fill="none" stroke="#3a6cc6" stroke-width="1.7" stroke-linejoin="miter"/>
<path d="M453.8,434.8 L457.8,440.4 L453.8,446.0 L449.8,440.4 Z" fill="none" stroke="#3a6cc6" stroke-width="1.7" stroke-linejoin="miter"/>
<path d="M480.1,420.4 L484.1,426.0 L480.1,431.6 L476.1,426.0 Z" fill="none" stroke="#3a6cc6" stroke-width="1.7" stroke-linejoin="miter"/>
<path d="M506.4,404.6 L510.4,410.2 L506.4,415.8 L502.4,410.2 Z" fill="none" stroke="#3a6cc6" stroke-width="1.7" stroke-linejoin="miter"/>
<g>
<path d="M164.5,522.1 L190.8,521.5 L217.1,519.6 L243.4,516.4 L269.7,511.8 L296.0,506.1 L322.3,499.6 L348.6,492.8 L374.9,485.5 L401.2,477.4 L427.5,469.2 L453.8,461.8 L480.1,455.0 L506.4,448.8 L532.7,443.3 L559.0,439.5 L585.3,436.1 L611.6,434.4 L637.9,434.7 L664.2,436.3 L690.5,439.4" fill="none" stroke="#c94a16" stroke-width="1.7" stroke-linejoin="round"/>
</g>
<path d="M158.6,522.1 H170.4 M164.5,516.2 V528.0" fill="none" stroke="#c94a16" stroke-width="1.8"/>
<path d="M184.9,521.5 H196.7 M190.8,515.6 V527.4" fill="none" stroke="#c94a16" stroke-width="1.8"/>
<path d="M211.2,519.6 H223.0 M217.1,513.7 V525.5" fill="none" stroke="#c94a16" stroke-width="1.8"/>
<path d="M237.5,516.4 H249.3 M243.4,510.5 V522.3" fill="none" stroke="#c94a16" stroke-width="1.8"/>
<path d="M263.8,511.8 H275.6 M269.7,505.9 V517.7" fill="none" stroke="#c94a16" stroke-width="1.8"/>
<path d="M290.1,506.1 H301.9 M296.0,500.2 V512.0" fill="none" stroke="#c94a16" stroke-width="1.8"/>
<path d="M316.4,499.6 H328.2 M322.3,493.7 V505.5" fill="none" stroke="#c94a16" stroke-width="1.8"/>
<path d="M342.7,492.8 H354.5 M348.6,486.9 V498.7" fill="none" stroke="#c94a16" stroke-width="1.8"/>
<path d="M369.0,485.5 H380.8 M374.9,479.6 V491.4" fill="none" stroke="#c94a16" stroke-width="1.8"/>
<path d="M395.3,477.4 H407.1 M401.2,471.5 V483.3" fill="none" stroke="#c94a16" stroke-width="1.8"/>
<path d="M421.6,469.2 H433.4 M427.5,463.3 V475.1" fill="none" stroke="#c94a16" stroke-width="1.8"/>
<path d="M447.9,461.8 H459.7 M453.8,455.9 V467.7" fill="none" stroke="#c94a16" stroke-width="1.8"/>
<path d="M474.2,455.0 H486.0 M480.1,449.1 V460.9" fill="none" stroke="#c94a16" stroke-width="1.8"/>
<path d="M500.5,448.8 H512.3 M506.4,442.9 V454.7" fill="none" stroke="#c94a16" stroke-width="1.8"/>
<path d="M526.8,443.3 H538.6 M532.7,437.4 V449.2" fill="none" stroke="#c94a16" stroke-width="1.8"/>
<path d="M553.1,439.5 H564.9 M559.0,433.6 V445.4" fill="none" stroke="#c94a16" stroke-width="1.8"/>
<path d="M579.4,436.1 H591.2 M585.3,430.2 V442.0" fill="none" stroke="#c94a16" stroke-width="1.8"/>
<path d="M605.7,434.4 H617.5 M611.6,428.5 V440.3" fill="none" stroke="#c94a16" stroke-width="1.8"/>
<path d="M632.0,434.7 H643.8 M637.9,428.8 V440.6" fill="none" stroke="#c94a16" stroke-width="1.8"/>
<path d="M658.3,436.3 H670.1 M664.2,430.4 V442.2" fill="none" stroke="#c94a16" stroke-width="1.8"/>
<path d="M684.6,439.4 H696.4 M690.5,433.5 V445.3" fill="none" stroke="#c94a16" stroke-width="1.8"/>
<g>
<path d="M164.5,522.1 L190.8,521.5 L217.1,519.6 L243.4,516.5 L269.7,512.1 L296.0,506.4 L322.3,500.2 L348.6,493.6 L374.9,486.6 L401.2,478.9 L427.5,471.3 L453.8,464.6 L480.1,458.8 L506.4,453.8 L532.7,449.7 L559.0,447.5 L585.3,445.9 L611.6,446.0 L637.9,448.1 L664.2,451.0 L690.5,454.5" fill="none" stroke="#a31fc4" stroke-width="1.7" stroke-linejoin="round"/>
</g>
<path d="M160.2,517.8 L168.8,526.4 M160.2,526.4 L168.8,517.8" fill="none" stroke="#a31fc4" stroke-width="1.8"/>
<path d="M186.5,517.2 L195.1,525.8 M186.5,525.8 L195.1,517.2" fill="none" stroke="#a31fc4" stroke-width="1.8"/>
<path d="M212.8,515.3 L221.4,523.9 M212.8,523.9 L221.4,515.3" fill="none" stroke="#a31fc4" stroke-width="1.8"/>
<path d="M239.1,512.2 L247.7,520.8 M239.1,520.8 L247.7,512.2" fill="none" stroke="#a31fc4" stroke-width="1.8"/>
<path d="M265.4,507.8 L274.0,516.4 M265.4,516.4 L274.0,507.8" fill="none" stroke="#a31fc4" stroke-width="1.8"/>
<path d="M291.7,502.1 L300.3,510.7 M291.7,510.7 L300.3,502.1" fill="none" stroke="#a31fc4" stroke-width="1.8"/>
<path d="M318.0,495.9 L326.6,504.5 M318.0,504.5 L326.6,495.9" fill="none" stroke="#a31fc4" stroke-width="1.8"/>
<path d="M344.3,489.3 L352.9,497.9 M344.3,497.9 L352.9,489.3" fill="none" stroke="#a31fc4" stroke-width="1.8"/>
<path d="M370.6,482.3 L379.2,490.9 M370.6,490.9 L379.2,482.3" fill="none" stroke="#a31fc4" stroke-width="1.8"/>
<path d="M396.9,474.6 L405.5,483.2 M396.9,483.2 L405.5,474.6" fill="none" stroke="#a31fc4" stroke-width="1.8"/>
<path d="M423.2,467.0 L431.8,475.6 M423.2,475.6 L431.8,467.0" fill="none" stroke="#a31fc4" stroke-width="1.8"/>
<path d="M449.5,460.3 L458.1,468.9 M449.5,468.9 L458.1,460.3" fill="none" stroke="#a31fc4" stroke-width="1.8"/>
<path d="M475.8,454.5 L484.4,463.1 M475.8,463.1 L484.4,454.5" fill="none" stroke="#a31fc4" stroke-width="1.8"/>
<path d="M502.1,449.5 L510.7,458.1 M502.1,458.1 L510.7,449.5" fill="none" stroke="#a31fc4" stroke-width="1.8"/>
<path d="M528.4,445.4 L537.0,454.0 M528.4,454.0 L537.0,445.4" fill="none" stroke="#a31fc4" stroke-width="1.8"/>
<path d="M554.7,443.2 L563.3,451.8 M554.7,451.8 L563.3,443.2" fill="none" stroke="#a31fc4" stroke-width="1.8"/>
<path d="M581.0,441.6 L589.6,450.2 M581.0,450.2 L589.6,441.6" fill="none" stroke="#a31fc4" stroke-width="1.8"/>
<path d="M607.3,441.7 L615.9,450.3 M607.3,450.3 L615.9,441.7" fill="none" stroke="#a31fc4" stroke-width="1.8"/>
<path d="M633.6,443.8 L642.2,452.4 M633.6,452.4 L642.2,443.8" fill="none" stroke="#a31fc4" stroke-width="1.8"/>
<path d="M659.9,446.7 L668.5,455.3 M659.9,455.3 L668.5,446.7" fill="none" stroke="#a31fc4" stroke-width="1.8"/>
<path d="M686.2,450.2 L694.8,458.8 M686.2,458.8 L694.8,450.2" fill="none" stroke="#a31fc4" stroke-width="1.8"/>
<g>
<path d="M164.5,522.1 L190.8,521.5 L217.1,519.6 L243.4,516.5 L269.7,512.0 L296.0,506.4 L322.3,500.3 L348.6,494.0 L374.9,487.4 L401.2,480.2 L427.5,473.3 L453.8,467.4 L480.1,462.5 L506.4,458.4 L532.7,455.3 L559.0,454.0 L585.3,453.2 L611.6,454.0 L637.9,456.6 L664.2,459.9 L690.5,463.8" fill="none" stroke="#111111" stroke-width="1.7" stroke-linejoin="round"/>
</g>
<circle cx="164.5" cy="522.1" r="4.45" fill="none" stroke="#111111" stroke-width="1.95"/>
<circle cx="190.8" cy="521.5" r="4.45" fill="none" stroke="#111111" stroke-width="1.95"/>
<circle cx="217.1" cy="519.6" r="4.45" fill="none" stroke="#111111" stroke-width="1.95"/>
<circle cx="243.4" cy="516.5" r="4.45" fill="none" stroke="#111111" stroke-width="1.95"/>
<circle cx="269.7" cy="512.0" r="4.45" fill="none" stroke="#111111" stroke-width="1.95"/>
<circle cx="296.0" cy="506.4" r="4.45" fill="none" stroke="#111111" stroke-width="1.95"/>
<circle cx="322.3" cy="500.3" r="4.45" fill="none" stroke="#111111" stroke-width="1.95"/>
<circle cx="348.6" cy="494.0" r="4.45" fill="none" stroke="#111111" stroke-width="1.95"/>
<circle cx="374.9" cy="487.4" r="4.45" fill="none" stroke="#111111" stroke-width="1.95"/>
<circle cx="401.2" cy="480.2" r="4.45" fill="none" stroke="#111111" stroke-width="1.95"/>
<circle cx="427.5" cy="473.3" r="4.45" fill="none" stroke="#111111" stroke-width="1.95"/>
<circle cx="453.8" cy="467.4" r="4.45" fill="none" stroke="#111111" stroke-width="1.95"/>
<circle cx="480.1" cy="462.5" r="4.45" fill="none" stroke="#111111" stroke-width="1.95"/>
<circle cx="506.4" cy="458.4" r="4.45" fill="none" stroke="#111111" stroke-width="1.95"/>
<circle cx="532.7" cy="455.3" r="4.45" fill="none" stroke="#111111" stroke-width="1.95"/>
<circle cx="559.0" cy="454.0" r="4.45" fill="none" stroke="#111111" stroke-width="1.95"/>
<circle cx="585.3" cy="453.2" r="4.45" fill="none" stroke="#111111" stroke-width="1.95"/>
<circle cx="611.6" cy="454.0" r="4.45" fill="none" stroke="#111111" stroke-width="1.95"/>
<circle cx="637.9" cy="456.6" r="4.45" fill="none" stroke="#111111" stroke-width="1.95"/>
<circle cx="664.2" cy="459.9" r="4.45" fill="none" stroke="#111111" stroke-width="1.95"/>
<circle cx="690.5" cy="463.8" r="4.45" fill="none" stroke="#111111" stroke-width="1.95"/>
<rect x="164.5" y="604.4" width="526.0" height="139.10000000000002" fill="none" stroke="#262626" stroke-width="1.6"/>
<path d="M296.0,743.5 V738.0 M296.0,604.4 V609.9" stroke="#262626" stroke-width="1.6" fill="none"/>
<path d="M427.5,743.5 V738.0 M427.5,604.4 V609.9" stroke="#262626" stroke-width="1.6" fill="none"/>
<path d="M559.0,743.5 V738.0 M559.0,604.4 V609.9" stroke="#262626" stroke-width="1.6" fill="none"/>
<path d="M164.5,644.1 H170.0 M690.5,644.1 H685.0" stroke="#262626" stroke-width="1.6" fill="none"/>
<path d="M164.5,683.9 H170.0 M690.5,683.9 H685.0" stroke="#262626" stroke-width="1.6" fill="none"/>
<path d="M164.5,723.6 H170.0 M690.5,723.6 H685.0" stroke="#262626" stroke-width="1.6" fill="none"/>
<text x="156.49" y="774.90" font-family="Liberation Sans, sans-serif" font-size="28.8" fill="#262626" stroke="#262626" stroke-width="0.35">0</text>
<text x="275.98" y="774.90" font-family="Liberation Sans, sans-serif" font-size="28.8" fill="#262626" stroke="#262626" stroke-width="0.35">0.5</text>
<path transform="translate(419.49,774.90) scale(28.8,-28.8)" d="M.359,0H.271V.499H.092V.563C.19,.566 .266,.598 .297,.703H.359Z" fill="#262626" stroke="#262626" stroke-width="0.0122"/>
<path transform="translate(538.98,774.90) scale(28.8,-28.8)" d="M.359,0H.271V.499H.092V.563C.19,.566 .266,.598 .297,.703H.359Z" fill="#262626" stroke="#262626" stroke-width="0.0122"/>
<text x="555.00" y="774.90" font-family="Liberation Sans, sans-serif" font-size="28.8" fill="#262626" stroke="#262626" stroke-width="0.35">.5</text>
<text x="681.49" y="774.90" font-family="Liberation Sans, sans-serif" font-size="28.8" fill="#262626" stroke="#262626" stroke-width="0.35">2</text>
<text x="98.76" y="613.40" font-family="Liberation Sans, sans-serif" font-size="28.8" fill="#262626" stroke="#262626" stroke-width="0.35">0.0</text>
<path transform="translate(138.79,613.40) scale(28.8,-28.8)" d="M.359,0H.271V.499H.092V.563C.19,.566 .266,.598 .297,.703H.359Z" fill="#262626" stroke="#262626" stroke-width="0.0122"/>
<text x="138.79" y="653.14" font-family="Liberation Sans, sans-serif" font-size="28.8" fill="#262626" stroke="#262626" stroke-width="0.35">0</text>
<text x="89.16" y="692.89" font-family="Liberation Sans, sans-serif" font-size="28.8" fill="#262626" stroke="#262626" stroke-width="0.35">-0.0</text>
<path transform="translate(138.79,692.89) scale(28.8,-28.8)" d="M.359,0H.271V.499H.092V.563C.19,.566 .266,.598 .297,.703H.359Z" fill="#262626" stroke="#262626" stroke-width="0.0122"/>
<text x="89.16" y="732.63" font-family="Liberation Sans, sans-serif" font-size="28.8" fill="#262626" stroke="#262626" stroke-width="0.35">-0.02</text>
<g>
<path d="M164.5,644.2 L190.8,644.2 L217.1,644.2 L243.4,644.2 L269.7,644.2 L296.0,644.2 L322.3,644.2 L348.6,644.2 L374.9,644.2 L401.2,644.2 L427.5,644.2 L453.8,644.2 L480.1,644.2 L506.4,644.2 L532.7,644.2 L559.0,644.2 L585.3,644.2 L611.6,644.2 L637.9,644.2 L664.2,644.2 L690.5,644.2" fill="none" stroke="#3a6cc6" stroke-width="1.7" stroke-linejoin="round"/>
</g>
<path d="M164.5,638.6 L168.5,644.2 L164.5,649.8 L160.5,644.2 Z" fill="none" stroke="#3a6cc6" stroke-width="1.7" stroke-linejoin="miter"/>
<path d="M190.8,638.6 L194.8,644.2 L190.8,649.8 L186.8,644.2 Z" fill="none" stroke="#3a6cc6" stroke-width="1.7" stroke-linejoin="miter"/>
<path d="M217.1,638.6 L221.1,644.2 L217.1,649.8 L213.1,644.2 Z" fill="none" stroke="#3a6cc6" stroke-width="1.7" stroke-linejoin="miter"/>
<path d="M243.4,638.6 L247.4,644.2 L243.4,649.8 L239.4,644.2 Z" fill="none" stroke="#3a6cc6" stroke-width="1.7" stroke-linejoin="miter"/>
<path d="M269.7,638.6 L273.7,644.2 L269.7,649.8 L265.7,644.2 Z" fill="none" stroke="#3a6cc6" stroke-width="1.7" stroke-linejoin="miter"/>
<path d="M296.0,638.6 L300.0,644.2 L296.0,649.8 L292.0,644.2 Z" fill="none" stroke="#3a6cc6" stroke-width="1.7" stroke-linejoin="miter"/>
<path d="M322.3,638.6 L326.3,644.2 L322.3,649.8 L318.3,644.2 Z" fill="none" stroke="#3a6cc6" stroke-width="1.7" stroke-linejoin="miter"/>
<path d="M348.6,638.6 L352.6,644.2 L348.6,649.8 L344.6,644.2 Z" fill="none" stroke="#3a6cc6" stroke-width="1.7" stroke-linejoin="miter"/>
<path d="M374.9,638.6 L378.9,644.2 L374.9,649.8 L370.9,644.2 Z" fill="none" stroke="#3a6cc6" stroke-width="1.7" stroke-linejoin="miter"/>
<path d="M401.2,638.6 L405.2,644.2 L401.2,649.8 L397.2,644.2 Z" fill="none" stroke="#3a6cc6" stroke-width="1.7" stroke-linejoin="miter"/>
<path d="M427.5,638.6 L431.5,644.2 L427.5,649.8 L423.5,644.2 Z" fill="none" stroke="#3a6cc6" stroke-width="1.7" stroke-linejoin="miter"/>
<path d="M453.8,638.6 L457.8,644.2 L453.8,649.8 L449.8,644.2 Z" fill="none" stroke="#3a6cc6" stroke-width="1.7" stroke-linejoin="miter"/>
<path d="M480.1,638.6 L484.1,644.2 L480.1,649.8 L476.1,644.2 Z" fill="none" stroke="#3a6cc6" stroke-width="1.7" stroke-linejoin="miter"/>
<path d="M506.4,638.6 L510.4,644.2 L506.4,649.8 L502.4,644.2 Z" fill="none" stroke="#3a6cc6" stroke-width="1.7" stroke-linejoin="miter"/>
<path d="M532.7,638.6 L536.7,644.2 L532.7,649.8 L528.7,644.2 Z" fill="none" stroke="#3a6cc6" stroke-width="1.7" stroke-linejoin="miter"/>
<path d="M559.0,638.6 L563.0,644.2 L559.0,649.8 L555.0,644.2 Z" fill="none" stroke="#3a6cc6" stroke-width="1.7" stroke-linejoin="miter"/>
<path d="M585.3,638.6 L589.3,644.2 L585.3,649.8 L581.3,644.2 Z" fill="none" stroke="#3a6cc6" stroke-width="1.7" stroke-linejoin="miter"/>
<path d="M611.6,638.6 L615.6,644.2 L611.6,649.8 L607.6,644.2 Z" fill="none" stroke="#3a6cc6" stroke-width="1.7" stroke-linejoin="miter"/>
<path d="M637.9,638.6 L641.9,644.2 L637.9,649.8 L633.9,644.2 Z" fill="none" stroke="#3a6cc6" stroke-width="1.7" stroke-linejoin="miter"/>
<path d="M664.2,638.6 L668.2,644.2 L664.2,649.8 L660.2,644.2 Z" fill="none" stroke="#3a6cc6" stroke-width="1.7" stroke-linejoin="miter"/>
<path d="M690.5,638.6 L694.5,644.2 L690.5,649.8 L686.5,644.2 Z" fill="none" stroke="#3a6cc6" stroke-width="1.7" stroke-linejoin="miter"/>
<g>
<path d="M164.5,644.2 L190.8,644.5 L217.1,645.3 L243.4,647.0 L269.7,650.0 L296.0,653.6 L322.3,657.3 L348.6,661.9 L374.9,667.2 L401.2,672.0 L427.5,677.1 L453.8,682.8 L480.1,688.4 L506.4,693.3 L532.7,698.5 L559.0,703.7 L585.3,708.0 L611.6,712.0 L637.9,715.0 L664.2,717.0 L690.5,718.4" fill="none" stroke="#c94a16" stroke-width="1.7" stroke-linejoin="round"/>
</g>
<path d="M158.6,644.2 H170.4 M164.5,638.3 V650.1" fill="none" stroke="#c94a16" stroke-width="1.8"/>
<path d="M184.9,644.5 H196.7 M190.8,638.6 V650.4" fill="none" stroke="#c94a16" stroke-width="1.8"/>
<path d="M211.2,645.3 H223.0 M217.1,639.4 V651.2" fill="none" stroke="#c94a16" stroke-width="1.8"/>
<path d="M237.5,647.0 H249.3 M243.4,641.1 V652.9" fill="none" stroke="#c94a16" stroke-width="1.8"/>
<path d="M263.8,650.0 H275.6 M269.7,644.1 V655.9" fill="none" stroke="#c94a16" stroke-width="1.8"/>
<path d="M290.1,653.6 H301.9 M296.0,647.7 V659.5" fill="none" stroke="#c94a16" stroke-width="1.8"/>
<path d="M316.4,657.3 H328.2 M322.3,651.4 V663.2" fill="none" stroke="#c94a16" stroke-width="1.8"/>
<path d="M342.7,661.9 H354.5 M348.6,656.0 V667.8" fill="none" stroke="#c94a16" stroke-width="1.8"/>
<path d="M369.0,667.2 H380.8 M374.9,661.3 V673.1" fill="none" stroke="#c94a16" stroke-width="1.8"/>
<path d="M395.3,672.0 H407.1 M401.2,666.1 V677.9" fill="none" stroke="#c94a16" stroke-width="1.8"/>
<path d="M421.6,677.1 H433.4 M427.5,671.2 V683.0" fill="none" stroke="#c94a16" stroke-width="1.8"/>
<path d="M447.9,682.8 H459.7 M453.8,676.9 V688.7" fill="none" stroke="#c94a16" stroke-width="1.8"/>
<path d="M474.2,688.4 H486.0 M480.1,682.5 V694.3" fill="none" stroke="#c94a16" stroke-width="1.8"/>
<path d="M500.5,693.3 H512.3 M506.4,687.4 V699.2" fill="none" stroke="#c94a16" stroke-width="1.8"/>
<path d="M526.8,698.5 H538.6 M532.7,692.6 V704.4" fill="none" stroke="#c94a16" stroke-width="1.8"/>
<path d="M553.1,703.7 H564.9 M559.0,697.8 V709.6" fill="none" stroke="#c94a16" stroke-width="1.8"/>
<path d="M579.4,708.0 H591.2 M585.3,702.1 V713.9" fill="none" stroke="#c94a16" stroke-width="1.8"/>
<path d="M605.7,712.0 H617.5 M611.6,706.1 V717.9" fill="none" stroke="#c94a16" stroke-width="1.8"/>
<path d="M632.0,715.0 H643.8 M637.9,709.1 V720.9" fill="none" stroke="#c94a16" stroke-width="1.8"/>
<path d="M658.3,717.0 H670.1 M664.2,711.1 V722.9" fill="none" stroke="#c94a16" stroke-width="1.8"/>
<path d="M684.6,718.4 H696.4 M690.5,712.5 V724.3" fill="none" stroke="#c94a16" stroke-width="1.8"/>
<g>
<path d="M164.5,644.2 L190.8,644.6 L217.1,645.8 L243.4,648.0 L269.7,651.6 L296.0,656.0 L322.3,661.4 L348.6,667.6 L374.9,673.8 L401.2,680.5 L427.5,686.7 L453.8,692.6 L480.1,699.0 L506.4,704.6 L532.7,709.3 L559.0,713.8 L585.3,717.6 L611.6,720.0 L637.9,721.6 L664.2,722.4 L690.5,721.6" fill="none" stroke="#a31fc4" stroke-width="1.7" stroke-linejoin="round"/>
</g>
<path d="M160.2,639.9 L168.8,648.5 M160.2,648.5 L168.8,639.9" fill="none" stroke="#a31fc4" stroke-width="1.8"/>
<path d="M186.5,640.3 L195.1,648.9 M186.5,648.9 L195.1,640.3" fill="none" stroke="#a31fc4" stroke-width="1.8"/>
<path d="M212.8,641.5 L221.4,650.1 M212.8,650.1 L221.4,641.5" fill="none" stroke="#a31fc4" stroke-width="1.8"/>
<path d="M239.1,643.7 L247.7,652.3 M239.1,652.3 L247.7,643.7" fill="none" stroke="#a31fc4" stroke-width="1.8"/>
<path d="M265.4,647.3 L274.0,655.9 M265.4,655.9 L274.0,647.3" fill="none" stroke="#a31fc4" stroke-width="1.8"/>
<path d="M291.7,651.7 L300.3,660.3 M291.7,660.3 L300.3,651.7" fill="none" stroke="#a31fc4" stroke-width="1.8"/>
<path d="M318.0,657.1 L326.6,665.7 M318.0,665.7 L326.6,657.1" fill="none" stroke="#a31fc4" stroke-width="1.8"/>
<path d="M344.3,663.3 L352.9,671.9 M344.3,671.9 L352.9,663.3" fill="none" stroke="#a31fc4" stroke-width="1.8"/>
<path d="M370.6,669.5 L379.2,678.1 M370.6,678.1 L379.2,669.5" fill="none" stroke="#a31fc4" stroke-width="1.8"/>
<path d="M396.9,676.2 L405.5,684.8 M396.9,684.8 L405.5,676.2" fill="none" stroke="#a31fc4" stroke-width="1.8"/>
<path d="M423.2,682.4 L431.8,691.0 M423.2,691.0 L431.8,682.4" fill="none" stroke="#a31fc4" stroke-width="1.8"/>
<path d="M449.5,688.3 L458.1,696.9 M449.5,696.9 L458.1,688.3" fill="none" stroke="#a31fc4" stroke-width="1.8"/>
<path d="M475.8,694.7 L484.4,703.3 M475.8,703.3 L484.4,694.7" fill="none" stroke="#a31fc4" stroke-width="1.8"/>
<path d="M502.1,700.3 L510.7,708.9 M502.1,708.9 L510.7,700.3" fill="none" stroke="#a31fc4" stroke-width="1.8"/>
<path d="M528.4,705.0 L537.0,713.6 M528.4,713.6 L537.0,705.0" fill="none" stroke="#a31fc4" stroke-width="1.8"/>
<path d="M554.7,709.5 L563.3,718.1 M554.7,718.1 L563.3,709.5" fill="none" stroke="#a31fc4" stroke-width="1.8"/>
<path d="M581.0,713.3 L589.6,721.9 M581.0,721.9 L589.6,713.3" fill="none" stroke="#a31fc4" stroke-width="1.8"/>
<path d="M607.3,715.7 L615.9,724.3 M607.3,724.3 L615.9,715.7" fill="none" stroke="#a31fc4" stroke-width="1.8"/>
<path d="M633.6,717.3 L642.2,725.9 M633.6,725.9 L642.2,717.3" fill="none" stroke="#a31fc4" stroke-width="1.8"/>
<path d="M659.9,718.1 L668.5,726.7 M659.9,726.7 L668.5,718.1" fill="none" stroke="#a31fc4" stroke-width="1.8"/>
<path d="M686.2,717.3 L694.8,725.9 M686.2,725.9 L694.8,717.3" fill="none" stroke="#a31fc4" stroke-width="1.8"/>
<g>
<path d="M164.5,644.2 L190.8,644.7 L217.1,646.8 L243.4,651.0 L269.7,655.8 L296.0,662.4 L322.3,669.3 L348.6,677.1 L374.9,684.9 L401.2,693.3 L427.5,701.1 L453.8,708.0 L480.1,713.7 L506.4,718.3 L532.7,721.2 L559.0,723.6 L585.3,724.0 L611.6,722.8 L637.9,721.0 L664.2,716.6 L690.5,711.0" fill="none" stroke="#111111" stroke-width="1.7" stroke-linejoin="round"/>
</g>
<circle cx="164.5" cy="644.2" r="4.45" fill="none" stroke="#111111" stroke-width="1.95"/>
<circle cx="190.8" cy="644.7" r="4.45" fill="none" stroke="#111111" stroke-width="1.95"/>
<circle cx="217.1" cy="646.8" r="4.45" fill="none" stroke="#111111" stroke-width="1.95"/>
<circle cx="243.4" cy="651.0" r="4.45" fill="none" stroke="#111111" stroke-width="1.95"/>
<circle cx="269.7" cy="655.8" r="4.45" fill="none" stroke="#111111" stroke-width="1.95"/>
<circle cx="296.0" cy="662.4" r="4.45" fill="none" stroke="#111111" stroke-width="1.95"/>
<circle cx="322.3" cy="669.3" r="4.45" fill="none" stroke="#111111" stroke-width="1.95"/>
<circle cx="348.6" cy="677.1" r="4.45" fill="none" stroke="#111111" stroke-width="1.95"/>
<circle cx="374.9" cy="684.9" r="4.45" fill="none" stroke="#111111" stroke-width="1.95"/>
<circle cx="401.2" cy="693.3" r="4.45" fill="none" stroke="#111111" stroke-width="1.95"/>
<circle cx="427.5" cy="701.1" r="4.45" fill="none" stroke="#111111" stroke-width="1.95"/>
<circle cx="453.8" cy="708.0" r="4.45" fill="none" stroke="#111111" stroke-width="1.95"/>
<circle cx="480.1" cy="713.7" r="4.45" fill="none" stroke="#111111" stroke-width="1.95"/>
<circle cx="506.4" cy="718.3" r="4.45" fill="none" stroke="#111111" stroke-width="1.95"/>
<circle cx="532.7" cy="721.2" r="4.45" fill="none" stroke="#111111" stroke-width="1.95"/>
<circle cx="559.0" cy="723.6" r="4.45" fill="none" stroke="#111111" stroke-width="1.95"/>
<circle cx="585.3" cy="724.0" r="4.45" fill="none" stroke="#111111" stroke-width="1.95"/>
<circle cx="611.6" cy="722.8" r="4.45" fill="none" stroke="#111111" stroke-width="1.95"/>
<circle cx="637.9" cy="721.0" r="4.45" fill="none" stroke="#111111" stroke-width="1.95"/>
<circle cx="664.2" cy="716.6" r="4.45" fill="none" stroke="#111111" stroke-width="1.95"/>
<circle cx="690.5" cy="711.0" r="4.45" fill="none" stroke="#111111" stroke-width="1.95"/>
<text x="2.8" y="24.0" font-family="Liberation Serif, serif" font-size="31" fill="#000">(a)</text>
<text x="1.4" y="231.5" font-family="Liberation Serif, serif" font-size="31" fill="#000">(b)</text>
<text x="3.0" y="436.0" font-family="Liberation Serif, serif" font-size="31" fill="#000">(c)</text>
<text x="1.4" y="642.0" font-family="Liberation Serif, serif" font-size="31" fill="#000">(d)</text>
<text x="46" y="292.7" font-family="Liberation Serif, serif" font-size="36" font-style="italic" fill="#000" textLength="24.5" lengthAdjust="spacingAndGlyphs">E</text>
<text x="46" y="486.4" font-family="Liberation Serif, serif" font-size="36" font-style="italic" fill="#000" textLength="24.5" lengthAdjust="spacingAndGlyphs">E</text>
<text x="46" y="682.7" font-family="Liberation Serif, serif" font-size="36" font-style="italic" fill="#000" textLength="24.5" lengthAdjust="spacingAndGlyphs">E</text>
<g transform="translate(70,0) rotate(-90)"><text x="-120.8" y="0" font-family="Liberation Serif, serif" font-size="33.5" fill="#000">1</text><path d="M-92.7,-8.6 H-71.8" stroke="#000" stroke-width="1.4"/><text x="-59.6" y="0" font-family="Liberation Serif, serif" font-size="36" font-style="italic" fill="#000" textLength="23.8" lengthAdjust="spacingAndGlyphs">F</text></g>
<text x="417.2" y="821.6" font-family="Liberation Serif, serif" font-size="36" font-style="italic" fill="#000">θ</text>
</svg>
</body></html>
